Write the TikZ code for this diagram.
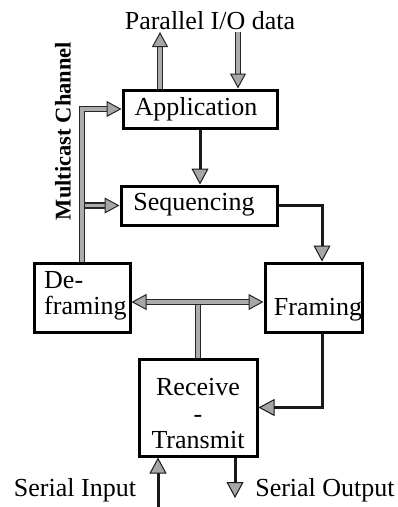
\documentclass[tikz,border=0pt]{standalone}
\usepackage{fontspec}
\setmainfont{Liberation Serif}
\usetikzlibrary{arrows.meta}

\tikzset{
  box/.style={draw=black, line width=3pt, fill=white, rectangle, inner sep=0pt},
  lbl/.style={inner sep=0pt, font=\fontsize{26}{26.5}\selectfont},
  bus/.style={draw=black!85, line width=1.6pt, double=gray!65, double distance=3.6pt},
  wire/.style={draw=black!90, line width=3pt},
  bhead/.style={-{Triangle[length=15pt,width=16pt,fill=gray!70,line width=1pt]}},
  bheads/.style={{Triangle[length=15pt,width=16pt,fill=gray!70,line width=1pt]}-{Triangle[length=15pt,width=16pt,fill=gray!70,line width=1pt]}},
  whead/.style={-{Triangle[length=16pt,width=17pt,fill=gray!70,line width=1pt]}}
}

\begin{document}
\begin{tikzpicture}[x=1pt, y=-1pt]
  \useasboundingbox (0,0) rectangle (398,507);

  % blocks
  \node[box, minimum width=154pt, minimum height=38pt] (app) at (200,109) {};
  \node[box, minimum width=156pt, minimum height=39pt] (seq) at (199,205.5) {};
  \node[box, minimum width=96pt,  minimum height=69pt] (def) at (82,297.5) {};
  \node[box, minimum width=97pt,  minimum height=69pt] (fra) at (313.5,297.5) {};
  \node[box, minimum width=118pt, minimum height=97pt] (rt)  at (198,407.5) {};

  % block texts
  \node[lbl] (appT) at (196,109) {Application};
  \node[lbl] (seqT) at (194,205) {Sequencing};
  \node[lbl, anchor=west, align=left] (defT) at (44,296) {De-\\framing};
  \node[lbl] (fraT) at (318,310) {Framing};
  \node[lbl, align=center] (rtT) at (198,414) {Receive\\-\\Transmit};

  % free ends and junctions
  \coordinate (pout) at (160,32);
  \coordinate (pin)  at (238,32);
  \coordinate (hub)  at (198,302);
  \coordinate (sin)  at (158,507);
  \coordinate (sout) at (235,498);

  % parallel I/O
  \draw[bus, bhead] (app.north -| pout) -- (pout);
  \draw[bus, bhead] (pin) -- (app.north -| pin);
  \node[lbl] (par) at (210,21) {Parallel I/O data};

  % multicast channel
  \draw[bus, bhead] ([xshift=3pt]def.north |- seq.west) -- (seq.west);
  \draw[bus, bhead] (def.north) |- (app.west);
  \node[inner sep=0pt, rotate=90, font=\fontsize{22.5}{24}\selectfont\bfseries] (mc) at (63,131) {Multicast Channel};

  % internal bus between de-framing, framing and receive/transmit
  \draw[bus] (rt.north) -- ([yshift=-3pt]hub);
  \draw[bus, bheads] (def.east |- hub) -- (fra.west |- hub);

  % transmit path
  \draw[wire, whead] (app.south) -- (app.south |- seq.north);
  \draw[wire, whead] (seq.east) -| ([xshift=8.5pt]fra.north);
  \draw[wire, whead] ([xshift=8.5pt]fra.south) |- (rt.east);

  % serial lines
  \draw[wire, whead] (sin) -- (rt.south -| sin);
  \draw[wire, whead] (rt.south -| sout) -- (sout);
  \node[lbl] (sinT)  at (75,490) {Serial Input};
  \node[lbl] (soutT) at (325,490) {Serial Output};
\end{tikzpicture}
\end{document}
